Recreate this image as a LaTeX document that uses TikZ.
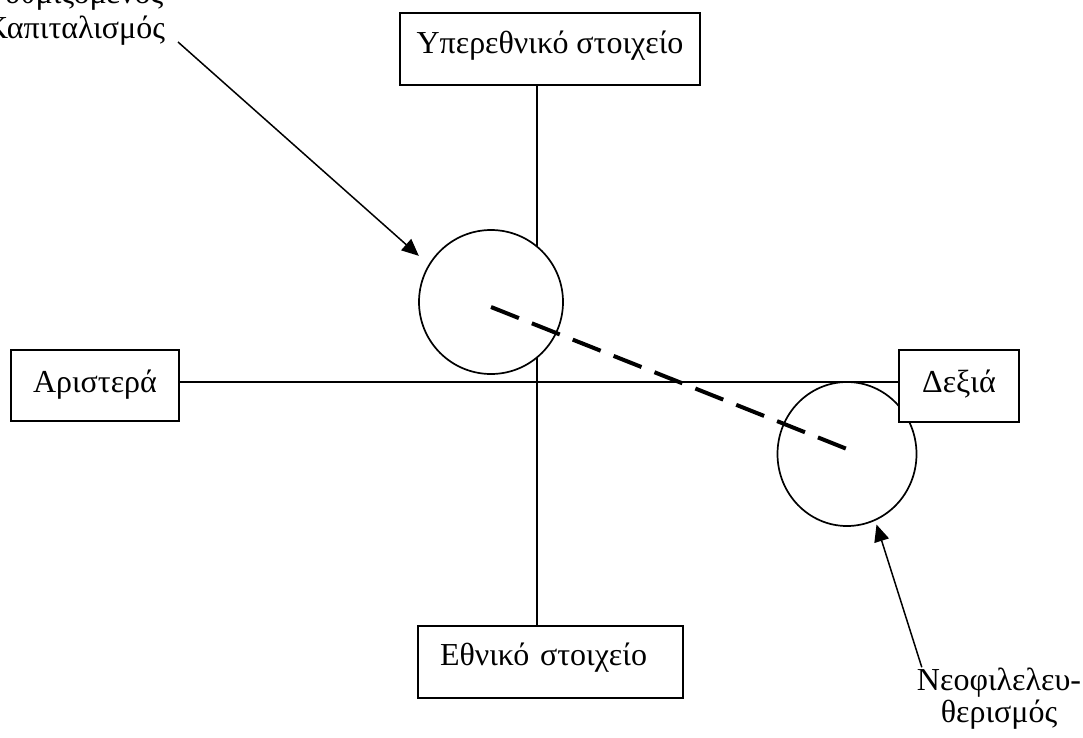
\documentclass[tikz,border=0pt]{standalone}
\usepackage{fontspec}
\setmainfont{Liberation Serif}
\usetikzlibrary{arrows.meta,shapes.geometric,backgrounds}
\begin{document}
\begin{tikzpicture}[x=1pt,y=-1pt,
  every node/.style={font=\fontsize{32}{33}\selectfont},
  box/.style={draw,fill=white,line width=1.8pt,inner sep=0pt},
  axis/.style={line width=1.4pt},
  ring/.style={draw,fill=white,ellipse,line width=1.7pt,inner sep=0pt},
  pointer/.style={line width=1.5pt,-{Triangle[length=17pt,width=15pt]}},
  trend/.style={line width=4pt,dash pattern=on 30pt off 14pt},
  lbl/.style={align=center,inner sep=0pt,anchor=base}]
\useasboundingbox (0,0) rectangle (1083,737);

% circles
\node[ring,minimum width=144pt,minimum height=144pt] (c1) at (491,302) {};
\node[ring,minimum width=139pt,minimum height=144pt] (c2) at (847,454) {};

% boxes
\node[box,minimum width=300pt,minimum height=72pt,text height=16pt,text depth=8pt] (boxN) at (550,49) {Υπερεθνικό στοιχείο};
\node[box,minimum width=168pt,minimum height=71pt,text height=20pt,text depth=7pt] (boxL) at (95,385.5) {Αριστερά};
\node[box,minimum width=120pt,minimum height=72pt,text height=19pt,text depth=7pt] (boxR) at (959,386) {Δεξιά};
\node[box,minimum width=265pt,minimum height=72pt,text width=221pt,align=left,inner xsep=22pt,text height=14pt,text depth=8pt] (boxS) at (550.5,662) {Εθνικό στοιχείο};

% axes
\begin{scope}[on background layer]
\draw[axis] ([xshift=-13pt]boxN.south) -- ([xshift=-13.5pt]boxS.north);
\draw[axis] ([yshift=3.5pt]boxL.east) -- ([yshift=4pt]boxR.west);
\end{scope}

% trend
\draw[trend] ([yshift=-5pt]c1.center) -- ([yshift=5pt]c2.center);

% labels and pointers
\node[lbl,font=\fontsize{32}{34.5}\selectfont] (cap) at (75,38) {Ρυθμιζόμενος\\Καπιταλισμός};
\coordinate (capTail) at (178,42);
\draw[pointer,shorten >=13pt] (capTail) -- (c1.149);

\node[lbl,font=\fontsize{32}{32}\selectfont] (neo) at (999,722) {Νεοφιλελευ-\\θερισμός};
\draw[pointer,shorten >=4pt] ([xshift=5pt]neo.north west) -- (c2.-67);
\end{tikzpicture}
\end{document}
